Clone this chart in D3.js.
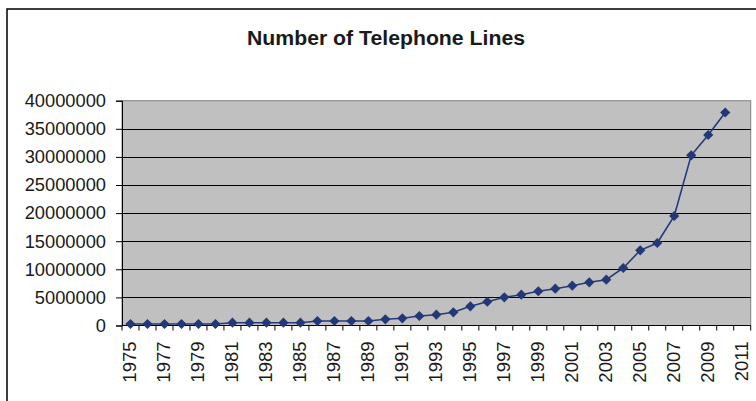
<!DOCTYPE html>
<html>
<head>
<meta charset="utf-8">
<script src="https://cdn.jsdelivr.net/npm/d3@7"></script>
<style>
  html, body { margin: 0; padding: 0; background: #fff; }
  svg { display: block; font-family: "Liberation Sans", Arial, sans-serif; }
</style>
</head>
<body>
<svg id="chart" width="756" height="401"></svg>
<script>
// Years on the category axis (the last one has no reading yet)
const years = d3.range(1975, 2012);
// Telephone lines in service, one value per year 1975–2010
const lineYears = d3.range(1975, 2011);
const lineCounts = [
  270000, 270000, 270000, 270000, 270000, 270000,
  500000, 500000, 500000, 500000, 500000,
  800000, 800000, 800000, 800000,
  1100000, 1280000, 1690000, 1920000, 2350000,
  3420000, 4230000, 5020000, 5480000, 6090000,
  6550000, 7080000, 7690000, 8150000, 10230000,
  13380000, 14680000, 19480000, 30280000, 33900000, 37900000
];
const yTicks = [0, 5000000, 10000000, 15000000, 20000000, 25000000, 30000000, 35000000, 40000000];
const title = "Number of Telephone Lines";

const svg = d3.select("#chart");
const plot = { left: 122, top: 100.7, right: 750.7, bottom: 325.5 };

// outer chart frame
svg.append("rect")
  .attr("x", 7).attr("y", 9).attr("width", 760).attr("height", 400)
  .attr("fill", "#fff").attr("stroke", "#000").attr("stroke-width", 1.5);

svg.append("text")
  .attr("x", 247).attr("y", 45.3)
  .attr("textLength", 278).attr("lengthAdjust", "spacingAndGlyphs")
  .attr("font-size", 19.5).attr("font-weight", "bold")
  .attr("fill", "#1a1a1a")
  .text(title);

const x = d3.scaleBand().domain(years).range([plot.left, plot.right]);
const y = d3.scaleLinear().domain([0, 40000000]).range([plot.bottom, plot.top]);

// plot background
svg.append("rect")
  .attr("x", plot.left).attr("y", plot.top)
  .attr("width", plot.right - plot.left).attr("height", plot.bottom - plot.top)
  .attr("fill", "#c0c0c0").attr("stroke", "#808080").attr("stroke-width", 1);

// horizontal gridlines
svg.append("g").selectAll("line")
  .data(yTicks.filter(t => t > 0 && t < 40000000))
  .join("line")
  .attr("x1", plot.left).attr("x2", plot.right)
  .attr("y1", d => Math.round(y(d)) + 0.5).attr("y2", d => Math.round(y(d)) + 0.5)
  .attr("stroke", "#000").attr("stroke-width", 1);

// y axis
const yAxis = svg.append("g")
  .attr("transform", `translate(${plot.left},0)`)
  .call(d3.axisLeft(y).tickValues(yTicks).tickFormat(d3.format("d")).tickSize(6).tickPadding(10));
yAxis.select(".domain").attr("stroke", "#000");
yAxis.selectAll(".tick line").attr("stroke", "#000");
yAxis.selectAll("text")
  .attr("font-size", 18.3).attr("fill", "#1a1a1a")
  .attr("font-family", "Liberation Sans, Arial, sans-serif");

// x axis: ticks on category boundaries, labels on every other year
const xg = svg.append("g").attr("transform", `translate(0,${plot.bottom})`);
xg.append("line")
  .attr("x1", plot.left).attr("x2", plot.right)
  .attr("y1", 0).attr("y2", 0).attr("stroke", "#000");
xg.selectAll("line.tk")
  .data(years.concat([years[years.length - 1] + 1]))
  .join("line").attr("class", "tk")
  .attr("x1", (d, i) => plot.left + i * x.step())
  .attr("x2", (d, i) => plot.left + i * x.step())
  .attr("y1", 0).attr("y2", 5)
  .attr("stroke", "#000");
xg.selectAll("text")
  .data(years.filter((d, i) => i % 2 === 0))
  .join("text")
  .attr("transform", d => `translate(${x(d) + x.bandwidth() / 2 + 6},16) rotate(-90)`)
  .attr("text-anchor", "end")
  .attr("font-size", 18.5).attr("fill", "#1a1a1a")
  .text(d => d);

// series line and diamond markers
const pts = lineYears.map((yr, i) => [x(yr) + x.bandwidth() / 2, y(lineCounts[i])]);
svg.append("path")
  .attr("d", d3.line()(pts))
  .attr("fill", "none").attr("stroke", "#243a7c").attr("stroke-width", 1.6);
svg.append("g").selectAll("path")
  .data(pts)
  .join("path")
  .attr("transform", d => `translate(${d[0]},${d[1]}) rotate(45)`)
  .attr("d", d3.symbol(d3.symbolSquare, 52)())
  .attr("fill", "#233876");
</script>
</body>
</html>
